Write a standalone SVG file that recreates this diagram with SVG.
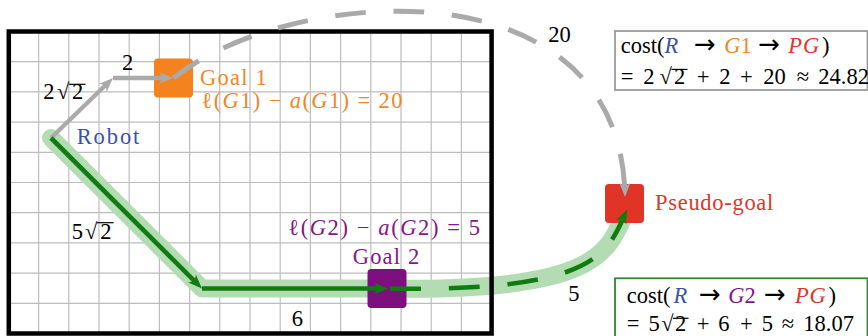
<svg xmlns="http://www.w3.org/2000/svg" width="868" height="336" viewBox="0 0 868 336" font-family="'Liberation Serif', 'Times New Roman', Times, serif" font-size="22.5">
<style>
.it{font-style:italic}
.ar{font-family:"DejaVu Sans",sans-serif;font-size:26px}
.grid line{stroke:#bdbdbd;stroke-width:1.2}
.border{fill:none;stroke:#000;stroke-width:4.5}
.band{fill:none;stroke:#b3dcb3;stroke-width:18;stroke-linecap:round;stroke-linejoin:round}
.gl{fill:none;stroke:#aaaaaa;stroke-width:4.3}
.gd{fill:none;stroke:#aaaaaa;stroke-width:5}
.dl{fill:none;stroke:#107c10;stroke-width:4.6}
.vin{stroke:#000;stroke-width:1.2}
.blue{fill:#3b50a8}.orange{fill:#f0862a}.red{fill:#e2352a}.purple{fill:#861588}
</style>
<defs>
<marker id="grayA" markerUnits="userSpaceOnUse" viewBox="-16 -8 28 16" markerWidth="28" markerHeight="16" refX="0" refY="0" orient="auto" overflow="visible"><path d="M9,0 L-5,-5.5 L-1.5,0 L-5,5.5 Z" fill="#aaaaaa"/></marker>
<marker id="grayT" markerUnits="userSpaceOnUse" viewBox="-16 -8 28 16" markerWidth="28" markerHeight="16" refX="0" refY="0" orient="auto" overflow="visible"><path d="M0,0 L-14,-5.5 L-10.5,0 L-14,5.5 Z" fill="#aaaaaa"/></marker>
<marker id="greenA" markerUnits="userSpaceOnUse" viewBox="-16 -8 28 16" markerWidth="28" markerHeight="16" refX="0" refY="0" orient="auto" overflow="visible"><path d="M9,0 L-5,-5.5 L-1.5,0 L-5,5.5 Z" fill="#107c10"/></marker>
<marker id="greenT" markerUnits="userSpaceOnUse" viewBox="-16 -8 28 16" markerWidth="28" markerHeight="16" refX="0" refY="0" orient="auto" overflow="visible"><path d="M0,0 L-14,-5.5 L-10.5,0 L-14,5.5 Z" fill="#107c10"/></marker>
</defs>
<rect width="868" height="336" fill="#fff"/>
<g id="grid" class="grid">
<line x1="38.6" y1="31.5" x2="38.6" y2="333.5"/><line x1="68.8" y1="31.5" x2="68.8" y2="333.5"/><line x1="99" y1="31.5" x2="99" y2="333.5"/><line x1="129.2" y1="31.5" x2="129.2" y2="333.5"/><line x1="159.4" y1="31.5" x2="159.4" y2="333.5"/><line x1="189.6" y1="31.5" x2="189.6" y2="333.5"/><line x1="219.8" y1="31.5" x2="219.8" y2="333.5"/><line x1="250" y1="31.5" x2="250" y2="333.5"/><line x1="280.2" y1="31.5" x2="280.2" y2="333.5"/><line x1="310.4" y1="31.5" x2="310.4" y2="333.5"/><line x1="340.6" y1="31.5" x2="340.6" y2="333.5"/><line x1="370.8" y1="31.5" x2="370.8" y2="333.5"/><line x1="401" y1="31.5" x2="401" y2="333.5"/><line x1="431.2" y1="31.5" x2="431.2" y2="333.5"/><line x1="461.4" y1="31.5" x2="461.4" y2="333.5"/>
<line x1="8.8" y1="61.7" x2="491.6" y2="61.7"/><line x1="8.8" y1="91.9" x2="491.6" y2="91.9"/><line x1="8.8" y1="122.1" x2="491.6" y2="122.1"/><line x1="8.8" y1="152.3" x2="491.6" y2="152.3"/><line x1="8.8" y1="182.5" x2="491.6" y2="182.5"/><line x1="8.8" y1="212.7" x2="491.6" y2="212.7"/><line x1="8.8" y1="242.9" x2="491.6" y2="242.9"/><line x1="8.8" y1="273.1" x2="491.6" y2="273.1"/><line x1="8.8" y1="303.3" x2="491.6" y2="303.3"/>
</g>
<path id="band" class="band" d="M51,138 L202,288.5 L388,288.5 C600,292 608,252 627,209.5"/>
<rect id="border" class="border" x="8.8" y="31.5" width="482.8" height="302"/>
<g id="goal1"><rect x="154" y="58.5" width="39" height="39" rx="4" fill="#f4821f"/></g>
<g id="goal2"><rect x="367.5" y="269" width="39" height="39" rx="4" fill="#7e0f7e"/></g>
<g id="pseudo-goal"><rect x="605" y="184" width="39" height="39" rx="4" fill="#e03427"/></g>
<g id="connectors">
<path class="gl" d="M51,138 L106.5,84.3" marker-end="url(#grayA)"/>
<path class="gl" d="M113,78 L164.5,78" marker-end="url(#grayA)"/>
<path class="gd" d="M173.5,78 C290,-15 622,-40 625,197" pathLength="571" stroke-dasharray="30.7 27.9 30.7 27.9 30.7 27.9 30.7 27.9 30.7 27.9 30.7 27.9 30.7 27.9 30.7 27.9 30.7 27.9 33 100" marker-end="url(#grayT)"/>
<path class="dl" d="M51,138 L195.6,282.1" marker-end="url(#greenA)"/>
<path class="dl" d="M202,288.5 L379.5,288.5" marker-end="url(#greenA)"/>
<path class="dl" d="M390,288.5 C600,292 608,252 627,209.5" pathLength="267" stroke-dasharray="30.7 27.7 30.7 27.7 30.7 27.7 30.7 27.7 22 100" marker-end="url(#greenT)"/>
</g>
<g id="robot"><text class="blue" x="76.7" y="144" textLength="62.6">Robot</text></g>
<g id="goal1-labels">
<text class="orange" x="200" y="85" textLength="66.7">Goal 1</text>
<text class="orange" x="201.5" y="108.3" textLength="201">ℓ(<tspan class="it">G</tspan>1) − <tspan class="it">a</tspan>(<tspan class="it">G</tspan>1) = 20</text>
</g>
<g id="goal2-labels">
<text class="purple" x="288.3" y="235" textLength="191.7">ℓ(<tspan class="it">G</tspan>2) − <tspan class="it">a</tspan>(<tspan class="it">G</tspan>2) = 5</text>
<text class="purple" x="352.7" y="264" textLength="66.6">Goal 2</text>
</g>
<g id="pseudo-goal-label"><text class="red" x="655" y="210" textLength="118.3">Pseudo-goal</text></g>
<g id="edge-labels">
<text y="99"><tspan x="43.3">2</tspan><tspan x="57">√</tspan><tspan x="72">2</tspan></text>
<line class="vin" x1="69" y1="84.3" x2="85.5" y2="84.3"/>
<text x="122" y="69.5">2</text>
<text x="548.3" y="41.7">20</text>
<text y="239.3"><tspan x="71.7">5</tspan><tspan x="85">√</tspan><tspan x="100.3">2</tspan></text>
<line class="vin" x1="97" y1="222.7" x2="113.6" y2="222.7"/>
<text x="291.7" y="326">6</text>
<text x="568.3" y="301">5</text>
</g>
<g id="cost1">
<rect x="615" y="31" width="252.5" height="59" fill="#fff" stroke="#9b9b9b" stroke-width="1.8"/>
<text y="53.3"><tspan x="620.7">cost(</tspan><tspan x="664.5" class="it blue">R</tspan><tspan x="694" class="ar">→</tspan><tspan x="724.3" class="it orange">G</tspan><tspan class="orange">1</tspan><tspan x="758.3" class="ar">→</tspan><tspan x="788.3" class="it red">P</tspan><tspan x="803" class="it red">G</tspan><tspan x="822">)</tspan></text>
<text y="83.5"><tspan x="620.7">=</tspan><tspan x="643.3">2</tspan><tspan x="659.5">√</tspan><tspan x="674">2</tspan><tspan x="696.7">+</tspan><tspan x="719.3">2</tspan><tspan x="740">+</tspan><tspan x="763.3">20</tspan><tspan x="796.7">≈</tspan><tspan x="818.3">24.82</tspan></text>
<line class="vin" x1="671.5" y1="69.4" x2="687.5" y2="69.4"/>
</g>
<g id="cost2">
<rect x="615" y="278.3" width="252.5" height="80" fill="#fff" stroke="#2a8a2a" stroke-width="1.8"/>
<text y="303"><tspan x="626.7">cost(</tspan><tspan x="673.5" class="it blue">R</tspan><tspan x="699" class="ar">→</tspan><tspan x="728.3" class="it purple">G</tspan><tspan class="purple">2</tspan><tspan x="764" class="ar">→</tspan><tspan x="795" class="it red">P</tspan><tspan x="809.5" class="it red">G</tspan><tspan x="828.5">)</tspan></text>
<text y="330.7"><tspan x="626.7">=</tspan><tspan x="648.5">5</tspan><tspan x="661.3">√</tspan><tspan x="675">2</tspan><tspan x="696.7">+</tspan><tspan x="718.3">6</tspan><tspan x="740">+</tspan><tspan x="761.7">5</tspan><tspan x="781.7">≈</tspan><tspan x="803.3">18.07</tspan></text>
<line class="vin" x1="673" y1="318.3" x2="688.5" y2="318.3"/>
</g>
</svg>
